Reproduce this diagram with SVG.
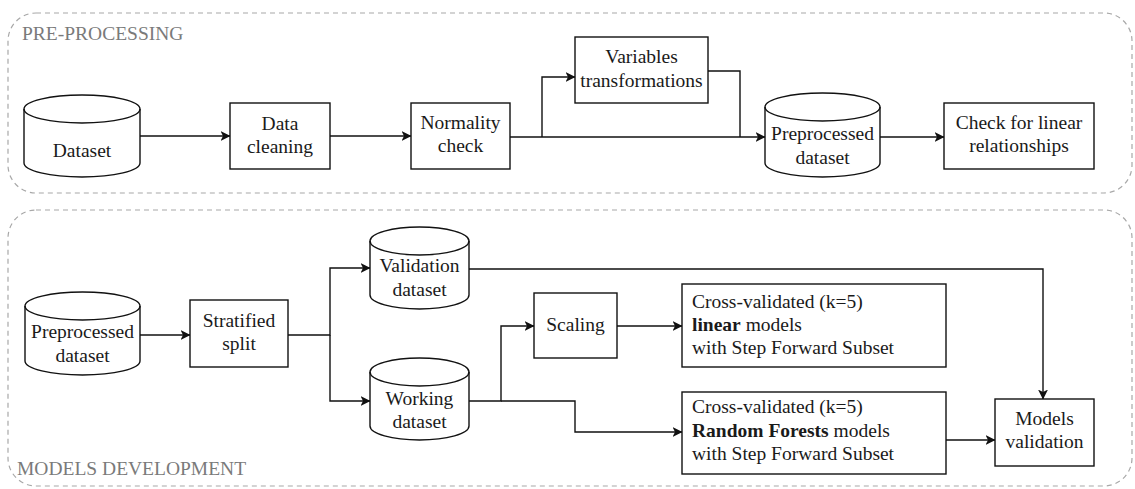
<svg xmlns="http://www.w3.org/2000/svg" width="1135" height="489" viewBox="0 0 1135 489" font-family="'Liberation Serif', serif">
<style>
  text{font-family:'Liberation Serif',serif}
  .tx{font-size:19.5px;fill:#1a1a1a;text-anchor:middle}
  .lx{font-size:19.5px;fill:#1a1a1a;text-anchor:start}
  .lbl{font-size:19.5px;fill:#7a7a7a}
  .box{fill:#fff;stroke:#111;stroke-width:1.4}
  .cont{fill:none;stroke:#a8a8a8;stroke-width:1.2;stroke-dasharray:5 4}
  .c{fill:none;stroke:#111;stroke-width:1.4}
  .b{font-weight:bold}
</style>
<defs>
  <marker id="ah" viewBox="0 0 10 10" refX="9.5" refY="5" markerWidth="10" markerHeight="10" markerUnits="userSpaceOnUse" orient="auto">
    <path d="M0,0 L10,5 L0,10 L2.5,5 Z" fill="#111"/>
  </marker>
</defs>
<rect width="1135" height="489" fill="#fff"/>

<g id="container-preprocessing">
  <rect class="cont" x="8" y="13" width="1124" height="180" rx="28"/>
  <text class="lbl" x="22" y="40">PRE-PROCESSING</text>
</g>
<g id="container-models">
  <rect class="cont" x="8" y="210" width="1124" height="276" rx="28"/>
  <text class="lbl" x="17" y="475">MODELS DEVELOPMENT</text>
</g>

<g id="connectors">
  <path class="c" d="M140,136 H230" marker-end="url(#ah)"/>
  <path class="c" d="M330,136 H411" marker-end="url(#ah)"/>
  <path class="c" d="M510,137 H765" marker-end="url(#ah)"/>
  <path class="c" d="M542,137 V77 H575" marker-end="url(#ah)"/>
  <path class="c" d="M708,71 H740 V137"/>
  <path class="c" d="M880,137 H944" marker-end="url(#ah)"/>
  <path class="c" d="M140,335 H190" marker-end="url(#ah)"/>
  <path class="c" d="M288,335 H330 V268 H370" marker-end="url(#ah)"/>
  <path class="c" d="M330,335 V401 H370" marker-end="url(#ah)"/>
  <path class="c" d="M469,269 H1043 V399" marker-end="url(#ah)"/>
  <path class="c" d="M469,401 H501 V326 H534" marker-end="url(#ah)"/>
  <path class="c" d="M501,401 H575 V432 H682" marker-end="url(#ah)"/>
  <path class="c" d="M617,326 H682" marker-end="url(#ah)"/>
  <path class="c" d="M946,440 H995" marker-end="url(#ah)"/>
</g>

<g id="dataset">
  <path class="box" d="M24,109 a58,14 0 0 1 116,0 v54 a58,14 0 0 1 -116,0 Z"/>
  <path class="c" d="M24,109 a58,14 0 0 0 116,0"/>
  <text class="tx" x="82" y="157">Dataset</text>
</g>
<g id="data-cleaning">
  <rect class="box" x="230" y="103" width="100" height="66"/>
  <text class="tx" x="280" y="130">Data</text>
  <text class="tx" x="280" y="153">cleaning</text>
</g>
<g id="normality-check">
  <rect class="box" x="411" y="103" width="99" height="66"/>
  <text class="tx" x="460.5" y="129">Normality</text>
  <text class="tx" x="460.5" y="152">check</text>
</g>
<g id="variables-transformations">
  <rect class="box" x="575" y="37" width="133" height="66"/>
  <text class="tx" x="641.5" y="63">Variables</text>
  <text class="tx" x="641.5" y="87">transformations</text>
</g>
<g id="preprocessed-dataset-1">
  <path class="box" d="M765,107 a57.5,14 0 0 1 115,0 v56 a57.5,14 0 0 1 -115,0 Z"/>
  <path class="c" d="M765,107 a57.5,14 0 0 0 115,0"/>
  <text class="tx" x="822.5" y="140">Preprocessed</text>
  <text class="tx" x="822.5" y="164">dataset</text>
</g>
<g id="check-linear">
  <rect class="box" x="944" y="103" width="150" height="66"/>
  <text class="tx" x="1019" y="129">Check for linear</text>
  <text class="tx" x="1019" y="152">relationships</text>
</g>

<g id="preprocessed-dataset-2">
  <path class="box" d="M25,306 a57.5,14 0 0 1 115,0 v55 a57.5,14 0 0 1 -115,0 Z"/>
  <path class="c" d="M25,306 a57.5,14 0 0 0 115,0"/>
  <text class="tx" x="82.5" y="338">Preprocessed</text>
  <text class="tx" x="82.5" y="362">dataset</text>
</g>
<g id="stratified-split">
  <rect class="box" x="190" y="300" width="98" height="67"/>
  <text class="tx" x="239" y="327">Stratified</text>
  <text class="tx" x="239" y="350">split</text>
</g>
<g id="validation-dataset">
  <path class="box" d="M370,241 a49.5,14 0 0 1 99,0 v54 a49.5,14 0 0 1 -99,0 Z"/>
  <path class="c" d="M370,241 a49.5,14 0 0 0 99,0"/>
  <text class="tx" x="419.5" y="272">Validation</text>
  <text class="tx" x="419.5" y="296">dataset</text>
</g>
<g id="working-dataset">
  <path class="box" d="M370,372 a49.5,14 0 0 1 99,0 v54 a49.5,14 0 0 1 -99,0 Z"/>
  <path class="c" d="M370,372 a49.5,14 0 0 0 99,0"/>
  <text class="tx" x="419.5" y="405">Working</text>
  <text class="tx" x="419.5" y="428">dataset</text>
</g>
<g id="scaling">
  <rect class="box" x="534" y="293" width="83" height="65"/>
  <text class="tx" x="575.5" y="331">Scaling</text>
</g>
<g id="linear-models">
  <rect class="box" x="682" y="284" width="264" height="83"/>
  <text class="lx" x="692" y="308">Cross-validated (k=5)</text>
  <text class="lx" x="692" y="331"><tspan class="b">linear</tspan> models</text>
  <text class="lx" x="692" y="354">with Step Forward Subset</text>
</g>
<g id="rf-models">
  <rect class="box" x="682" y="392" width="264" height="82"/>
  <text class="lx" x="692" y="413">Cross-validated (k=5)</text>
  <text class="lx" x="692" y="437"><tspan class="b">Random Forests</tspan> models</text>
  <text class="lx" x="692" y="460">with Step Forward Subset</text>
</g>
<g id="models-validation">
  <rect class="box" x="995" y="399" width="99" height="67"/>
  <text class="tx" x="1044.5" y="425">Models</text>
  <text class="tx" x="1044.5" y="448">validation</text>
</g>
</svg>
